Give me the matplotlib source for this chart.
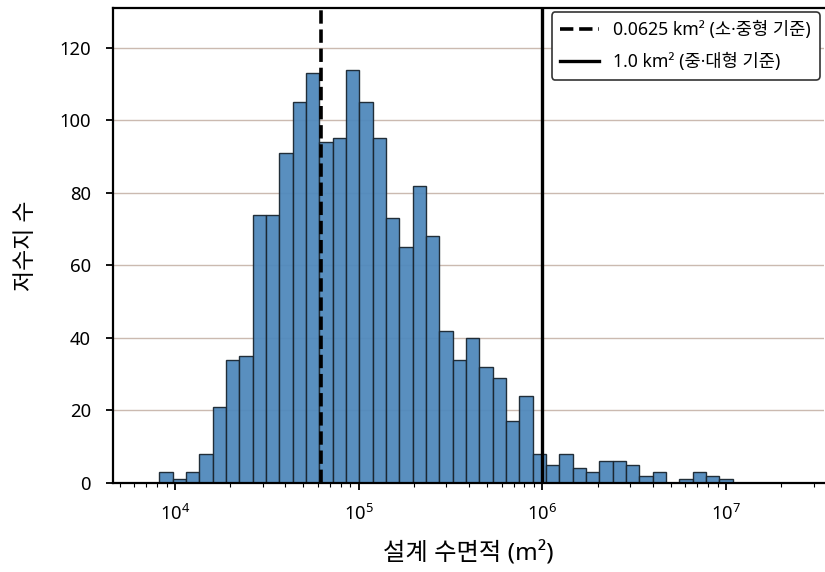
import numpy as np
import matplotlib
matplotlib.use('Agg')
import matplotlib.pyplot as plt
import matplotlib.ticker as mticker

plt.rcParams['font.family'] = ['Noto Sans', 'Noto Sans CJK KR', 'DejaVu Sans']
plt.rcParams['mathtext.fontset'] = 'custom'
plt.rcParams['mathtext.rm'] = 'Noto Sans'
plt.rcParams['mathtext.it'] = 'Noto Sans'
plt.rcParams['axes.unicode_minus'] = False

# log10 of the first and last bin edge (43 equal log-width bins)
edge_lo = 3.9146
edge_hi = 7.0364
counts = [3, 1, 3, 8, 21, 34, 35, 74, 74, 91, 105, 113, 94, 95, 114, 105, 95, 73,
          65, 82, 68, 42, 34, 40, 32, 29, 17, 24, 8, 5, 8, 4, 3, 6, 6, 5, 2, 3,
          0, 1, 3, 2, 1]

small_mid = 0.0625e6   # m2
mid_large = 1.0e6      # m2
lbl_small = '0.0625 km² (소·중형 기준)'
lbl_large = '1.0 km² (중·대형 기준)'
yticks = [0, 20, 40, 60, 80, 100, 120]

edges = 10 ** np.linspace(edge_lo, edge_hi, len(counts) + 1)
centers = np.sqrt(edges[:-1] * edges[1:])

fig = plt.figure(figsize=(8.25, 5.72), dpi=100)
ax = fig.add_axes([0.137, 0.156, 0.862, 0.830])

ax.hist(centers, bins=edges, weights=counts, color='#5089bc', alpha=0.95,
        edgecolor='#1a2630', linewidth=1.0, zorder=2)

ax.axvline(small_mid, color='black', ls='--', lw=2.6, label=lbl_small, zorder=3)
ax.axvline(mid_large, color='black', ls='-', lw=2.4, label=lbl_large, zorder=3)

ax.set_xscale('log')
ax.set_xlim(10 ** 3.663, 10 ** 7.535)
ax.set_ylim(0, 131)
ax.set_yticks(yticks)
ax.xaxis.set_major_locator(mticker.LogLocator(base=10, numticks=10))

ax.yaxis.grid(True, color='#cbbab0', lw=1.0, zorder=0)
ax.set_axisbelow(True)

for side in ['left', 'bottom', 'top']:
    ax.spines[side].set_linewidth(1.6)
    ax.spines[side].set_color('black')
ax.spines['right'].set_visible(False)

ax.tick_params(axis='both', which='major', labelsize=13.3, length=5, width=1.3)
ax.tick_params(axis='y', which='major', pad=11)
ax.tick_params(axis='x', which='major', pad=10)
ax.tick_params(axis='x', which='minor', length=3, width=0.8)

ax.set_xlabel('설계 수면적 (m²)', fontsize=17.5, labelpad=13)
ax.set_ylabel('저수지 수', fontsize=16.5, labelpad=15)

leg = ax.legend(loc='upper right', fontsize=12.7, frameon=True, fancybox=True,
                edgecolor='#333333', framealpha=1.0, borderaxespad=0.25,
                borderpad=0.5, labelspacing=0.75, handlelength=2.2,
                handletextpad=0.8)
leg.get_frame().set_linewidth(1.2)

plt.savefig('out.png', dpi=100)
plt.close()
